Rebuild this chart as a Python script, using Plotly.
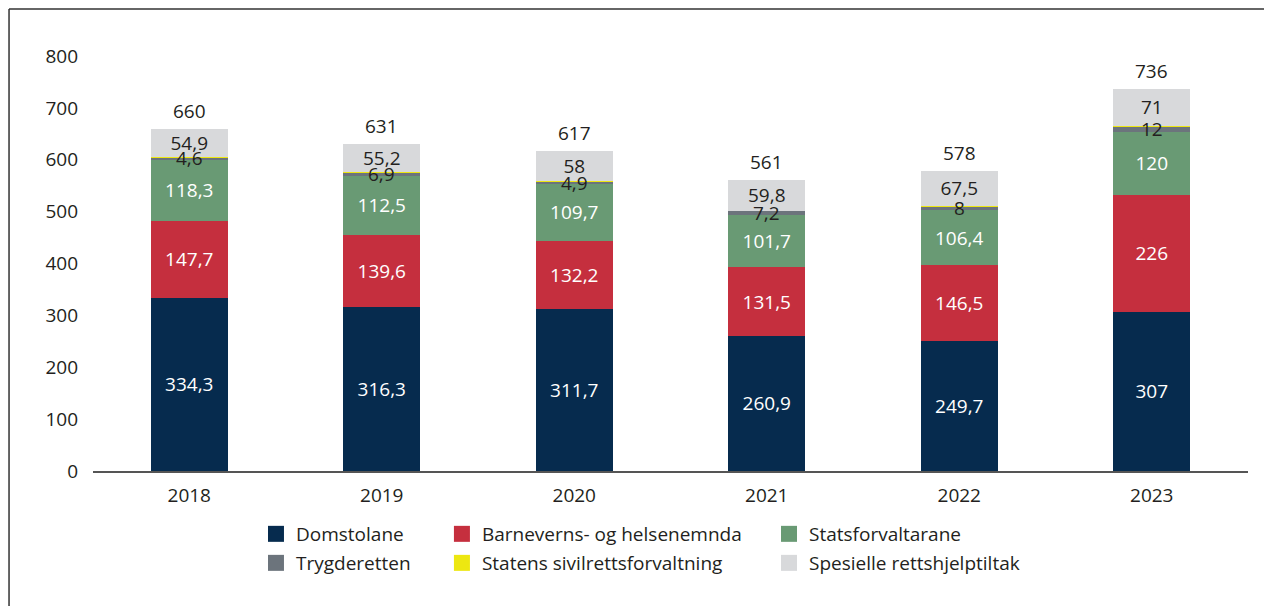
import plotly.graph_objects as go

years = ["2018", "2019", "2020", "2021", "2022", "2023"]
domstolane = [334.3, 316.3, 311.7, 260.9, 249.7, 307]
barnevern = [147.7, 139.6, 132.2, 131.5, 146.5, 226]
statsforvaltarane = [118.3, 112.5, 109.7, 101.7, 106.4, 120]
trygderetten = [4.6, 6.9, 4.9, 7.2, 8, 12]
sivilretts = [0.4, 0.5, 0.5, 0.3, 0.4, 0.3]
spesielle = [54.9, 55.2, 58, 59.8, 67.5, 71]
totals = [660, 631, 617, 561, 578, 736]

names = ["Domstolane", "Barneverns- og helsenemnda", "Statsforvaltarane",
         "Trygderetten", "Statens sivilrettsforvaltning", "Spesielle rettshjelptiltak"]
series = [domstolane, barnevern, statsforvaltarane, trygderetten, sivilretts, spesielle]
colors = ["#062B4E", "#C52F3E", "#699A74", "#6C747C", "#EDE711", "#D8D9DB"]
textcolors = ["white", "white", "white", "#231F20", "#231F20", "#231F20"]
show_text = [True, True, True, False, False, True]

FONT = "Open Sans"
TXT = "#231F20"


def fmt(v):
    s = ("%g" % v)
    return s.replace(".", ",")


fig = go.Figure()
for i, (name, vals) in enumerate(zip(names, series)):
    fig.add_trace(go.Bar(
        x=years, y=vals, name=name,
        marker=dict(color=colors[i], line=dict(width=0)),
        text=[fmt(v) for v in vals] if show_text[i] else None,
        textposition="inside" if show_text[i] else "none",
        insidetextanchor="middle",
        textangle=0,
        constraintext="none",
        textfont=dict(family=FONT, size=19, color=textcolors[i]),
        showlegend=False,
        hoverinfo="skip",
    ))

# legend entries (square markers), each in its own legend for exact placement
leg_pos = {
    0: (0.1411, -0.1518), 1: (0.3021, -0.1518), 2: (0.5853, -0.1518),
    3: (0.1411, -0.2217), 4: (0.3021, -0.2217), 5: (0.5853, -0.2217),
}
legend_layout = {}
for i, name in enumerate(names):
    key = "legend" if i == 0 else "legend%d" % (i + 1)
    fig.add_trace(go.Scatter(
        x=[years[0]], y=[None], mode="markers", name=name,
        marker=dict(symbol="square", size=16, color=colors[i]),
        legend=key, showlegend=True, hoverinfo="skip",
    ))
    lx, ly = leg_pos[i]
    legend_layout[key] = dict(
        x=lx, y=ly, xanchor="left", yanchor="middle",
        orientation="v", bgcolor="rgba(0,0,0,0)",
        font=dict(family=FONT, size=19, color=TXT),
        itemsizing="trace",
    )

annotations = []
for j, yr in enumerate(years):
    base = domstolane[j] + barnevern[j] + statsforvaltarane[j]
    annotations.append(dict(
        x=j, y=base + trygderetten[j] / 2, xref="x", yref="y",
        text=fmt(trygderetten[j]), showarrow=False,
        font=dict(family=FONT, size=19, color=TXT),
        yanchor="middle",
    ))
    stack_top = base + trygderetten[j] + sivilretts[j] + spesielle[j]
    annotations.append(dict(
        x=j, y=stack_top, xref="x", yref="y",
        text=str(totals[j]), showarrow=False,
        font=dict(family=FONT, size=19, color=TXT),
        yanchor="bottom", yshift=3,
    ))

shapes = [
    dict(type="line", xref="paper", yref="paper", x0=-0.0727, x1=1.04,
         y0=1.1133, y1=1.1133, line=dict(color="#333333", width=1.5)),
    dict(type="line", xref="paper", yref="paper", x0=-0.0727, x1=-0.0727,
         y0=1.1133, y1=-0.4, line=dict(color="#333333", width=1.5)),
]

fig.update_layout(
    **legend_layout,
    barmode="stack",
    bargap=0.6,
    width=1272, height=606,
    margin=dict(l=85, r=32, t=48, b=143, pad=0),
    plot_bgcolor="white", paper_bgcolor="white",
    font=dict(family=FONT, size=19, color=TXT),
    annotations=annotations,
    shapes=shapes,
    xaxis=dict(
        type="category", categoryorder="array", categoryarray=years,
        range=[-0.5, 5.5],
        showgrid=False, showline=True,
        linecolor="#555555", linewidth=1.5, ticks="",
        tickfont=dict(family=FONT, size=19, color=TXT),
        ticklabelstandoff=6, fixedrange=True,
    ),
    yaxis=dict(
        range=[0, 800], tickvals=[0, 100, 200, 300, 400, 500, 600, 700, 800],
        showgrid=False, zeroline=False, showline=False, ticks="",
        tickfont=dict(family=FONT, size=19, color=TXT),
        ticklabelstandoff=14, fixedrange=True,
    ),
)

fig.write_html("out.html")
